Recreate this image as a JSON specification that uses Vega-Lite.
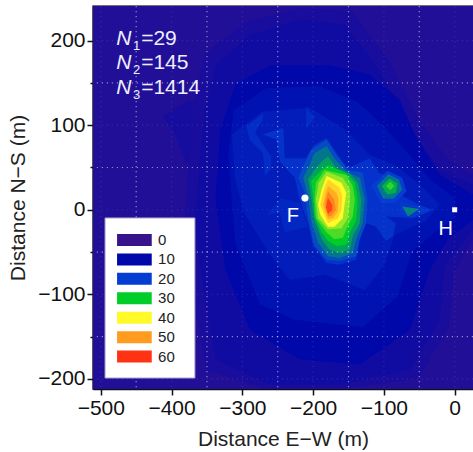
{"$schema":"https://vega.github.io/schema/vega-lite/v6.json","width":380,"height":383,"autosize":{"type":"none"},"padding":{"left":93,"top":6,"right":0,"bottom":63},"background":"white","view":{"stroke":"#444","strokeWidth":1.5},
"layer":[
{"data":{"values":[
{"c":1,"v":4,"i":0,"x":-511,"y":241},{"c":1,"v":4,"i":1,"x":26,"y":241},{"c":1,"v":4,"i":2,"x":26,"y":-212},{"c":1,"v":4,"i":3,"x":-511,"y":-212},
{"c":2,"v":6,"i":0,"x":-412,"y":110},{"c":2,"v":6,"i":1,"x":-395,"y":90},{"c":2,"v":6,"i":2,"x":-380,"y":55},{"c":2,"v":6,"i":3,"x":-365,"y":60},{"c":2,"v":6,"i":4,"x":-360,"y":120},{"c":2,"v":6,"i":5,"x":-375,"y":130},
{"c":27,"v":5.5,"i":0,"x":-370,"y":125},{"c":27,"v":5.5,"i":1,"x":-352,"y":185},{"c":27,"v":5.5,"i":2,"x":-295,"y":222},{"c":27,"v":5.5,"i":3,"x":-219,"y":238},{"c":27,"v":5.5,"i":4,"x":-145,"y":235},{"c":27,"v":5.5,"i":5,"x":-92,"y":175},{"c":27,"v":5.5,"i":6,"x":-50,"y":105},{"c":27,"v":5.5,"i":7,"x":-10,"y":60},{"c":27,"v":5.5,"i":8,"x":26,"y":42},{"c":27,"v":5.5,"i":9,"x":26,"y":-34},{"c":27,"v":5.5,"i":10,"x":-2,"y":-75},{"c":27,"v":5.5,"i":11,"x":-8,"y":-138},{"c":27,"v":5.5,"i":12,"x":-52,"y":-200},{"c":27,"v":5.5,"i":13,"x":-162,"y":-212},{"c":27,"v":5.5,"i":14,"x":-265,"y":-212},{"c":27,"v":5.5,"i":15,"x":-350,"y":-190},{"c":27,"v":5.5,"i":16,"x":-368,"y":-110},{"c":27,"v":5.5,"i":17,"x":-382,"y":-18},{"c":27,"v":5.5,"i":18,"x":-375,"y":60},
{"c":3,"v":7,"i":0,"x":-353,"y":118},{"c":3,"v":7,"i":1,"x":-338,"y":171},{"c":3,"v":7,"i":2,"x":-289,"y":207},{"c":3,"v":7,"i":3,"x":-219,"y":225},{"c":3,"v":7,"i":4,"x":-155,"y":219},{"c":3,"v":7,"i":5,"x":-106,"y":165},{"c":3,"v":7,"i":6,"x":-63,"y":95},{"c":3,"v":7,"i":7,"x":-21,"y":47},{"c":3,"v":7,"i":8,"x":26,"y":30},{"c":3,"v":7,"i":9,"x":26,"y":-24},{"c":3,"v":7,"i":10,"x":-14,"y":-65},{"c":3,"v":7,"i":11,"x":-21,"y":-130},{"c":3,"v":7,"i":12,"x":-63,"y":-189},{"c":3,"v":7,"i":13,"x":-162,"y":-207},{"c":3,"v":7,"i":14,"x":-261,"y":-207},{"c":3,"v":7,"i":15,"x":-338,"y":-177},{"c":3,"v":7,"i":16,"x":-353,"y":-106},{"c":3,"v":7,"i":17,"x":-367,"y":-18},{"c":3,"v":7,"i":18,"x":-360,"y":59},
{"c":4,"v":10,"i":0,"x":-331,"y":95},{"c":4,"v":10,"i":1,"x":-310,"y":148},{"c":4,"v":10,"i":2,"x":-261,"y":171},{"c":4,"v":10,"i":3,"x":-176,"y":171},{"c":4,"v":10,"i":4,"x":-120,"y":160},{"c":4,"v":10,"i":5,"x":-78,"y":130},{"c":4,"v":10,"i":6,"x":-56,"y":89},{"c":4,"v":10,"i":7,"x":-21,"y":41},{"c":4,"v":10,"i":8,"x":26,"y":18},{"c":4,"v":10,"i":9,"x":26,"y":-12},{"c":4,"v":10,"i":10,"x":-10,"y":-35},{"c":4,"v":10,"i":11,"x":-35,"y":-71},{"c":4,"v":10,"i":12,"x":-63,"y":-142},{"c":4,"v":10,"i":13,"x":-134,"y":-183},{"c":4,"v":10,"i":14,"x":-219,"y":-177},{"c":4,"v":10,"i":15,"x":-289,"y":-142},{"c":4,"v":10,"i":16,"x":-324,"y":-71},{"c":4,"v":10,"i":17,"x":-338,"y":12},
{"c":28,"v":12,"i":0,"x":-320,"y":65},{"c":28,"v":12,"i":1,"x":-312,"y":118},{"c":28,"v":12,"i":2,"x":-266,"y":144},{"c":28,"v":12,"i":3,"x":-190,"y":146},{"c":28,"v":12,"i":4,"x":-138,"y":128},{"c":28,"v":12,"i":5,"x":-99,"y":98},{"c":28,"v":12,"i":6,"x":-70,"y":71},{"c":28,"v":12,"i":7,"x":-35,"y":36},{"c":28,"v":12,"i":8,"x":0,"y":14},{"c":28,"v":12,"i":9,"x":0,"y":-10},{"c":28,"v":12,"i":10,"x":-26,"y":-25},{"c":28,"v":12,"i":11,"x":-60,"y":-50},{"c":28,"v":12,"i":12,"x":-81,"y":-103},{"c":28,"v":12,"i":13,"x":-130,"y":-139},{"c":28,"v":12,"i":14,"x":-226,"y":-130},{"c":28,"v":12,"i":15,"x":-275,"y":-112},{"c":28,"v":12,"i":16,"x":-310,"y":-40},
{"c":5,"v":14,"i":0,"x":-310,"y":35},{"c":5,"v":14,"i":1,"x":-315,"y":89},{"c":5,"v":14,"i":2,"x":-272,"y":116},{"c":5,"v":14,"i":3,"x":-205,"y":121},{"c":5,"v":14,"i":4,"x":-155,"y":95},{"c":5,"v":14,"i":5,"x":-120,"y":65},{"c":5,"v":14,"i":6,"x":-85,"y":53},{"c":5,"v":14,"i":7,"x":-49,"y":30},{"c":5,"v":14,"i":8,"x":-21,"y":6},{"c":5,"v":14,"i":9,"x":-42,"y":-14},{"c":5,"v":14,"i":10,"x":-85,"y":-30},{"c":5,"v":14,"i":11,"x":-99,"y":-65},{"c":5,"v":14,"i":12,"x":-127,"y":-95},{"c":5,"v":14,"i":13,"x":-183,"y":-77},{"c":5,"v":14,"i":14,"x":-233,"y":-83},{"c":5,"v":14,"i":15,"x":-261,"y":-53},{"c":5,"v":14,"i":16,"x":-296,"y":-6},
{"c":6,"v":16,"i":0,"x":-266,"y":-6},{"c":6,"v":16,"i":1,"x":-245,"y":14},{"c":6,"v":16,"i":2,"x":-219,"y":8},{"c":6,"v":16,"i":3,"x":-207,"y":-20},{"c":6,"v":16,"i":4,"x":-240,"y":-27},{"c":6,"v":16,"i":5,"x":-247,"y":-4},
{"c":7,"v":17,"i":0,"x":-210,"y":122},{"c":7,"v":17,"i":1,"x":-198,"y":109},{"c":7,"v":17,"i":2,"x":-210,"y":95},
{"c":8,"v":17,"i":0,"x":-294,"y":99},{"c":8,"v":17,"i":1,"x":-271,"y":114},{"c":8,"v":17,"i":2,"x":-271,"y":107},{"c":8,"v":17,"i":3,"x":-282,"y":91},{"c":8,"v":17,"i":4,"x":-259,"y":63},{"c":8,"v":17,"i":5,"x":-259,"y":49},{"c":8,"v":17,"i":6,"x":-268,"y":40},{"c":8,"v":17,"i":7,"x":-271,"y":67},{"c":8,"v":17,"i":8,"x":-290,"y":83},
{"c":9,"v":18,"i":0,"x":-271,"y":89},{"c":9,"v":18,"i":1,"x":-242,"y":97},{"c":9,"v":18,"i":2,"x":-240,"y":61},{"c":9,"v":18,"i":3,"x":-210,"y":61},{"c":9,"v":18,"i":4,"x":-198,"y":77},{"c":9,"v":18,"i":5,"x":-181,"y":85},{"c":9,"v":18,"i":6,"x":-165,"y":65},{"c":9,"v":18,"i":7,"x":-151,"y":49},{"c":9,"v":18,"i":8,"x":-120,"y":61},{"c":9,"v":18,"i":9,"x":-106,"y":43},{"c":9,"v":18,"i":10,"x":-83,"y":40},{"c":9,"v":18,"i":11,"x":-73,"y":16},{"c":9,"v":18,"i":12,"x":-50,"y":6},{"c":9,"v":18,"i":13,"x":-31,"y":0},{"c":9,"v":18,"i":14,"x":-59,"y":-10},{"c":9,"v":18,"i":15,"x":-97,"y":-8},{"c":9,"v":18,"i":16,"x":-83,"y":-16},{"c":9,"v":18,"i":17,"x":-87,"y":-31},{"c":9,"v":18,"i":18,"x":-97,"y":-37},{"c":9,"v":18,"i":19,"x":-111,"y":-20},{"c":9,"v":18,"i":20,"x":-125,"y":-16},{"c":9,"v":18,"i":21,"x":-134,"y":-31},{"c":9,"v":18,"i":22,"x":-139,"y":-59},{"c":9,"v":18,"i":23,"x":-163,"y":-65},{"c":9,"v":18,"i":24,"x":-181,"y":-63},{"c":9,"v":18,"i":25,"x":-200,"y":-43},{"c":9,"v":18,"i":26,"x":-207,"y":-16},{"c":9,"v":18,"i":27,"x":-219,"y":12},{"c":9,"v":18,"i":28,"x":-226,"y":38},{"c":9,"v":18,"i":29,"x":-247,"y":57},{"c":9,"v":18,"i":30,"x":-252,"y":83},
{"c":10,"v":20,"i":0,"x":-118,"y":28},{"c":10,"v":20,"i":1,"x":-95,"y":46},{"c":10,"v":20,"i":2,"x":-74,"y":38},{"c":10,"v":20,"i":3,"x":-68,"y":22},{"c":10,"v":20,"i":4,"x":-84,"y":8},{"c":10,"v":20,"i":5,"x":-104,"y":8},
{"c":11,"v":24,"i":0,"x":-110,"y":28},{"c":11,"v":24,"i":1,"x":-94,"y":42},{"c":11,"v":24,"i":2,"x":-79,"y":36},{"c":11,"v":24,"i":3,"x":-74,"y":24},{"c":11,"v":24,"i":4,"x":-86,"y":13},{"c":11,"v":24,"i":5,"x":-101,"y":13},
{"c":12,"v":28,"i":0,"x":-103,"y":28},{"c":12,"v":28,"i":1,"x":-92,"y":37},{"c":12,"v":28,"i":2,"x":-81,"y":31},{"c":12,"v":28,"i":3,"x":-83,"y":20},{"c":12,"v":28,"i":4,"x":-95,"y":18},
{"c":26,"v":32,"i":0,"x":-97,"y":28},{"c":26,"v":32,"i":1,"x":-91,"y":33},{"c":26,"v":32,"i":2,"x":-85,"y":28},{"c":26,"v":32,"i":3,"x":-91,"y":23},
{"c":13,"v":19,"i":0,"x":-78,"y":10},{"c":13,"v":19,"i":1,"x":-50,"y":4},{"c":13,"v":19,"i":2,"x":-33,"y":-1},{"c":13,"v":19,"i":3,"x":-59,"y":-10},{"c":13,"v":19,"i":4,"x":-78,"y":-4},
{"c":14,"v":25,"i":0,"x":-74,"y":4},{"c":14,"v":25,"i":1,"x":-50,"y":1},{"c":14,"v":25,"i":2,"x":-66,"y":-8},
{"c":15,"v":21,"i":0,"x":-203,"y":71},{"c":15,"v":21,"i":1,"x":-181,"y":83},{"c":15,"v":21,"i":2,"x":-167,"y":65},{"c":15,"v":21,"i":3,"x":-151,"y":47},{"c":15,"v":21,"i":4,"x":-130,"y":44},{"c":15,"v":21,"i":5,"x":-123,"y":12},{"c":15,"v":21,"i":6,"x":-125,"y":-16},{"c":15,"v":21,"i":7,"x":-134,"y":-35},{"c":15,"v":21,"i":8,"x":-139,"y":-55},{"c":15,"v":21,"i":9,"x":-163,"y":-61},{"c":15,"v":21,"i":10,"x":-181,"y":-59},{"c":15,"v":21,"i":11,"x":-198,"y":-43},{"c":15,"v":21,"i":12,"x":-207,"y":-12},{"c":15,"v":21,"i":13,"x":-212,"y":20},{"c":15,"v":21,"i":14,"x":-221,"y":38},{"c":15,"v":21,"i":15,"x":-210,"y":59},
{"c":16,"v":24,"i":0,"x":-198,"y":67},{"c":16,"v":24,"i":1,"x":-181,"y":75},{"c":16,"v":24,"i":2,"x":-170,"y":61},{"c":16,"v":24,"i":3,"x":-153,"y":45},{"c":16,"v":24,"i":4,"x":-134,"y":38},{"c":16,"v":24,"i":5,"x":-127,"y":12},{"c":16,"v":24,"i":6,"x":-130,"y":-16},{"c":16,"v":24,"i":7,"x":-139,"y":-35},{"c":16,"v":24,"i":8,"x":-144,"y":-51},{"c":16,"v":24,"i":9,"x":-163,"y":-57},{"c":16,"v":24,"i":10,"x":-179,"y":-55},{"c":16,"v":24,"i":11,"x":-193,"y":-39},{"c":16,"v":24,"i":12,"x":-203,"y":-12},{"c":16,"v":24,"i":13,"x":-207,"y":16},{"c":16,"v":24,"i":14,"x":-214,"y":38},{"c":16,"v":24,"i":15,"x":-205,"y":53},
{"c":17,"v":27,"i":0,"x":-188,"y":57},{"c":17,"v":27,"i":1,"x":-179,"y":63},{"c":17,"v":27,"i":2,"x":-167,"y":49},{"c":17,"v":27,"i":3,"x":-148,"y":43},{"c":17,"v":27,"i":4,"x":-137,"y":32},{"c":17,"v":27,"i":5,"x":-132,"y":12},{"c":17,"v":27,"i":6,"x":-134,"y":-16},{"c":17,"v":27,"i":7,"x":-144,"y":-31},{"c":17,"v":27,"i":8,"x":-148,"y":-47},{"c":17,"v":27,"i":9,"x":-163,"y":-51},{"c":17,"v":27,"i":10,"x":-177,"y":-47},{"c":17,"v":27,"i":11,"x":-188,"y":-35},{"c":17,"v":27,"i":12,"x":-198,"y":-12},{"c":17,"v":27,"i":13,"x":-203,"y":16},{"c":17,"v":27,"i":14,"x":-207,"y":36},{"c":17,"v":27,"i":15,"x":-198,"y":47},
{"c":18,"v":30,"i":0,"x":-188,"y":47},{"c":18,"v":30,"i":1,"x":-179,"y":53},{"c":18,"v":30,"i":2,"x":-153,"y":43},{"c":18,"v":30,"i":3,"x":-141,"y":32},{"c":18,"v":30,"i":4,"x":-137,"y":12},{"c":18,"v":30,"i":5,"x":-139,"y":-12},{"c":18,"v":30,"i":6,"x":-148,"y":-27},{"c":18,"v":30,"i":7,"x":-153,"y":-41},{"c":18,"v":30,"i":8,"x":-167,"y":-43},{"c":18,"v":30,"i":9,"x":-179,"y":-37},{"c":18,"v":30,"i":10,"x":-188,"y":-27},{"c":18,"v":30,"i":11,"x":-198,"y":-8},{"c":18,"v":30,"i":12,"x":-200,"y":16},{"c":18,"v":30,"i":13,"x":-203,"y":34},
{"c":19,"v":33,"i":0,"x":-184,"y":47},{"c":19,"v":33,"i":1,"x":-153,"y":41},{"c":19,"v":33,"i":2,"x":-144,"y":28},{"c":19,"v":33,"i":3,"x":-141,"y":12},{"c":19,"v":33,"i":4,"x":-144,"y":-8},{"c":19,"v":33,"i":5,"x":-153,"y":-23},{"c":19,"v":33,"i":6,"x":-158,"y":-33},{"c":19,"v":33,"i":7,"x":-170,"y":-35},{"c":19,"v":33,"i":8,"x":-181,"y":-27},{"c":19,"v":33,"i":9,"x":-196,"y":-10},{"c":19,"v":33,"i":10,"x":-198,"y":12},{"c":19,"v":33,"i":11,"x":-196,"y":32},
{"c":20,"v":36,"i":0,"x":-181,"y":45},{"c":20,"v":36,"i":1,"x":-158,"y":38},{"c":20,"v":36,"i":2,"x":-148,"y":24},{"c":20,"v":36,"i":3,"x":-148,"y":8},{"c":20,"v":36,"i":4,"x":-151,"y":-10},{"c":20,"v":36,"i":5,"x":-160,"y":-22},{"c":20,"v":36,"i":6,"x":-179,"y":-23},{"c":20,"v":36,"i":7,"x":-193,"y":-10},{"c":20,"v":36,"i":8,"x":-196,"y":12},{"c":20,"v":36,"i":9,"x":-192,"y":32},
{"c":21,"v":40,"i":0,"x":-181,"y":40},{"c":21,"v":40,"i":1,"x":-160,"y":32},{"c":21,"v":40,"i":2,"x":-153,"y":20},{"c":21,"v":40,"i":3,"x":-156,"y":4},{"c":21,"v":40,"i":4,"x":-158,"y":-10},{"c":21,"v":40,"i":5,"x":-170,"y":-20},{"c":21,"v":40,"i":6,"x":-179,"y":-20},{"c":21,"v":40,"i":7,"x":-190,"y":-6},{"c":21,"v":40,"i":8,"x":-193,"y":6},{"c":21,"v":40,"i":9,"x":-188,"y":24},
{"c":22,"v":44,"i":0,"x":-179,"y":36},{"c":22,"v":44,"i":1,"x":-163,"y":26},{"c":22,"v":44,"i":2,"x":-159,"y":16},{"c":22,"v":44,"i":3,"x":-160,"y":0},{"c":22,"v":44,"i":4,"x":-165,"y":-10},{"c":22,"v":44,"i":5,"x":-179,"y":-16},{"c":22,"v":44,"i":6,"x":-186,"y":-2},{"c":22,"v":44,"i":7,"x":-190,"y":6},{"c":22,"v":44,"i":8,"x":-185,"y":24},
{"c":23,"v":48,"i":0,"x":-179,"y":28},{"c":23,"v":48,"i":1,"x":-167,"y":20},{"c":23,"v":48,"i":2,"x":-164,"y":12},{"c":23,"v":48,"i":3,"x":-165,"y":-2},{"c":23,"v":48,"i":4,"x":-172,"y":-10},{"c":23,"v":48,"i":5,"x":-179,"y":-11},{"c":23,"v":48,"i":6,"x":-184,"y":0},{"c":23,"v":48,"i":7,"x":-186,"y":6},{"c":23,"v":48,"i":8,"x":-182,"y":20},
{"c":24,"v":52,"i":0,"x":-179,"y":22},{"c":24,"v":52,"i":1,"x":-170,"y":12},{"c":24,"v":52,"i":2,"x":-168,"y":0},{"c":24,"v":52,"i":3,"x":-174,"y":-7},{"c":24,"v":52,"i":4,"x":-179,"y":-8},{"c":24,"v":52,"i":5,"x":-182,"y":2},{"c":24,"v":52,"i":6,"x":-183,"y":8},
{"c":25,"v":58,"i":0,"x":-179,"y":14},{"c":25,"v":58,"i":1,"x":-173,"y":6},{"c":25,"v":58,"i":2,"x":-173,"y":-1},{"c":25,"v":58,"i":3,"x":-179,"y":-5},{"c":25,"v":58,"i":4,"x":-182,"y":3}
]},
"mark":{"type":"line","clip":true,"strokeWidth":0},
"encoding":{
"x":{"field":"x","type":"quantitative","scale":{"domain":[-511,25.9],"nice":false,"zero":false},
"axis":{"title":"Distance E−W (m)","titleFont":"Liberation Sans","titleFontSize":21,"titleFontWeight":"normal","titleColor":"#222","titlePadding":10,"labelFont":"Liberation Sans","labelFontSize":21,"labelColor":"#111","labelPadding":2,"labelFlush":false,"labelOverlap":false,"values":[-500,-450,-400,-350,-300,-250,-200,-150,-100,-50,0],"labelExpr":"datum.value%100==0?datum.label:''","tickColor":"#111","tickWidth":1.5,"domainColor":"#111","domainWidth":1.5,"tickSize":{"condition":{"test":"datum.value%100==0","value":6},"value":3},"grid":false}},
"y":{"field":"y","type":"quantitative","scale":{"domain":[-212,241],"nice":false,"zero":false},
"axis":{"title":"Distance N−S (m)","titleFont":"Liberation Sans","titleFontSize":21,"titleFontWeight":"normal","titleColor":"#222","titlePadding":9,"labelFont":"Liberation Sans","labelFontSize":21,"labelColor":"#111","labelPadding":2,"labelOverlap":false,"values":[-200,-150,-100,-50,0,50,100,150,200],"labelExpr":"datum.value%100==0?datum.label:''","tickColor":"#111","tickWidth":1.5,"domainColor":"#111","domainWidth":1.5,"tickSize":{"condition":{"test":"datum.value%100==0","value":6},"value":3},"grid":false}},
"detail":{"field":"c"},
"order":{"field":"i"},
"fill":{"field":"v","type":"quantitative","scale":{"domain":[0,10,20,30,40,50,60],"range":["#37148c","#0008aa","#053cd2","#00cd28","#fffa28","#ff9b1e","#ff3214"],"interpolate":"rgb"},"legend":null}
}},
{"data":{"values":[{"g":-450,"o":0.5},{"g":-400,"o":0.1},{"g":-350,"o":0.5},{"g":-300,"o":0.1},{"g":-250,"o":0.5},{"g":-200,"o":0.1},{"g":-150,"o":0.5},{"g":-100,"o":0.1},{"g":-50,"o":0.5},{"g":-500,"o":0.1},{"g":0,"o":0.1}]},"mark":{"type":"rule","color":"white","strokeDash":[1.2,3.8],"strokeWidth":1.2},"encoding":{"x":{"field":"g","type":"quantitative"},"opacity":{"field":"o","type":"quantitative","scale":null}}},
{"data":{"values":[{"g":-200,"o":0.1},{"g":-150,"o":0.5},{"g":-100,"o":0.1},{"g":-50,"o":0.5},{"g":0,"o":0.1},{"g":50,"o":0.5},{"g":100,"o":0.1},{"g":150,"o":0.5},{"g":200,"o":0.1}]},"mark":{"type":"rule","color":"white","strokeDash":[1.2,3.8],"strokeWidth":1.2},"encoding":{"y":{"field":"g","type":"quantitative"},"opacity":{"field":"o","type":"quantitative","scale":null}}},
{"data":{"values":[{"x":-211.5,"y":13.8}]},"mark":{"type":"point","shape":"circle","filled":true,"color":"white","opacity":1,"size":50},"encoding":{"x":{"field":"x","type":"quantitative"},"y":{"field":"y","type":"quantitative"}}},
{"data":{"values":[{"x":0,"y":0}]},"mark":{"type":"point","shape":"square","filled":true,"color":"white","opacity":1,"size":25},"encoding":{"x":{"field":"x","type":"quantitative"},"y":{"field":"y","type":"quantitative"}}},
{"data":{"values":[{"x":-228.5,"y":-14,"t":"F"},{"x":-12.7,"y":-29.5,"t":"H"}]},"mark":{"type":"text","font":"Liberation Sans","fontSize":20,"color":"white","align":"center","baseline":"alphabetic"},"encoding":{"x":{"field":"x","type":"quantitative"},"y":{"field":"y","type":"quantitative"},"text":{"field":"t"}}},
{"data":{"values":[{"x":-478,"y":195,"t":"N"},{"x":-478,"y":166.7,"t":"N"},{"x":-478,"y":137,"t":"N"}]},"mark":{"type":"text","font":"Liberation Sans","fontStyle":"italic","fontSize":21,"color":"#eeeeff","align":"left","baseline":"alphabetic"},"encoding":{"x":{"field":"x","type":"quantitative"},"y":{"field":"y","type":"quantitative"},"text":{"field":"t"}}},
{"data":{"values":[{"x":-454.5,"y":189.5,"t":"1"},{"x":-454.5,"y":161,"t":"2"},{"x":-454.5,"y":131.5,"t":"3"}]},"mark":{"type":"text","font":"Liberation Sans","fontSize":13,"color":"#eeeeff","align":"left","baseline":"alphabetic"},"encoding":{"x":{"field":"x","type":"quantitative"},"y":{"field":"y","type":"quantitative"},"text":{"field":"t"}}},
{"data":{"values":[{"x":-443,"y":195,"t":"=29"},{"x":-443,"y":166.7,"t":"=145"},{"x":-443,"y":137,"t":"=1414"}]},"mark":{"type":"text","font":"Liberation Sans","fontSize":21,"color":"#eeeeff","align":"left","baseline":"alphabetic"},"encoding":{"x":{"field":"x","type":"quantitative"},"y":{"field":"y","type":"quantitative"},"text":{"field":"t"}}},
{"data":{"values":[{"x1":-494,"x2":-367,"y1":-9.7,"y2":-199}]},"mark":{"type":"rect","fill":"white","stroke":"#a9a0cc","strokeWidth":1},"encoding":{"x":{"field":"x1","type":"quantitative"},"x2":{"field":"x2"},"y":{"field":"y1","type":"quantitative"},"y2":{"field":"y2"}}},
{"data":{"values":[{"v":0,"x1":-477,"x2":-428,"y1":-28.6,"y2":-42.8},{"v":10,"x1":-477,"x2":-428,"y1":-51.6,"y2":-65.8},{"v":20,"x1":-477,"x2":-428,"y1":-74.6,"y2":-88.8},{"v":30,"x1":-477,"x2":-428,"y1":-97.6,"y2":-111.8},{"v":40,"x1":-477,"x2":-428,"y1":-120.6,"y2":-134.8},{"v":50,"x1":-477,"x2":-428,"y1":-143.6,"y2":-157.8},{"v":60,"x1":-477,"x2":-428,"y1":-166.6,"y2":-180.8}]},"mark":{"type":"rect"},"encoding":{"x":{"field":"x1","type":"quantitative"},"x2":{"field":"x2"},"y":{"field":"y1","type":"quantitative"},"y2":{"field":"y2"},"fill":{"field":"v","type":"quantitative"}}},
{"data":{"values":[{"x":-419,"y":-35.7,"t":"0"},{"x":-419,"y":-58.7,"t":"10"},{"x":-419,"y":-81.7,"t":"20"},{"x":-419,"y":-104.7,"t":"30"},{"x":-419,"y":-127.7,"t":"40"},{"x":-419,"y":-150.7,"t":"50"},{"x":-419,"y":-173.7,"t":"60"}]},"mark":{"type":"text","font":"Liberation Sans","fontSize":15,"color":"#222","align":"left","baseline":"middle"},"encoding":{"x":{"field":"x","type":"quantitative"},"y":{"field":"y","type":"quantitative"},"text":{"field":"t"}}}
]}
